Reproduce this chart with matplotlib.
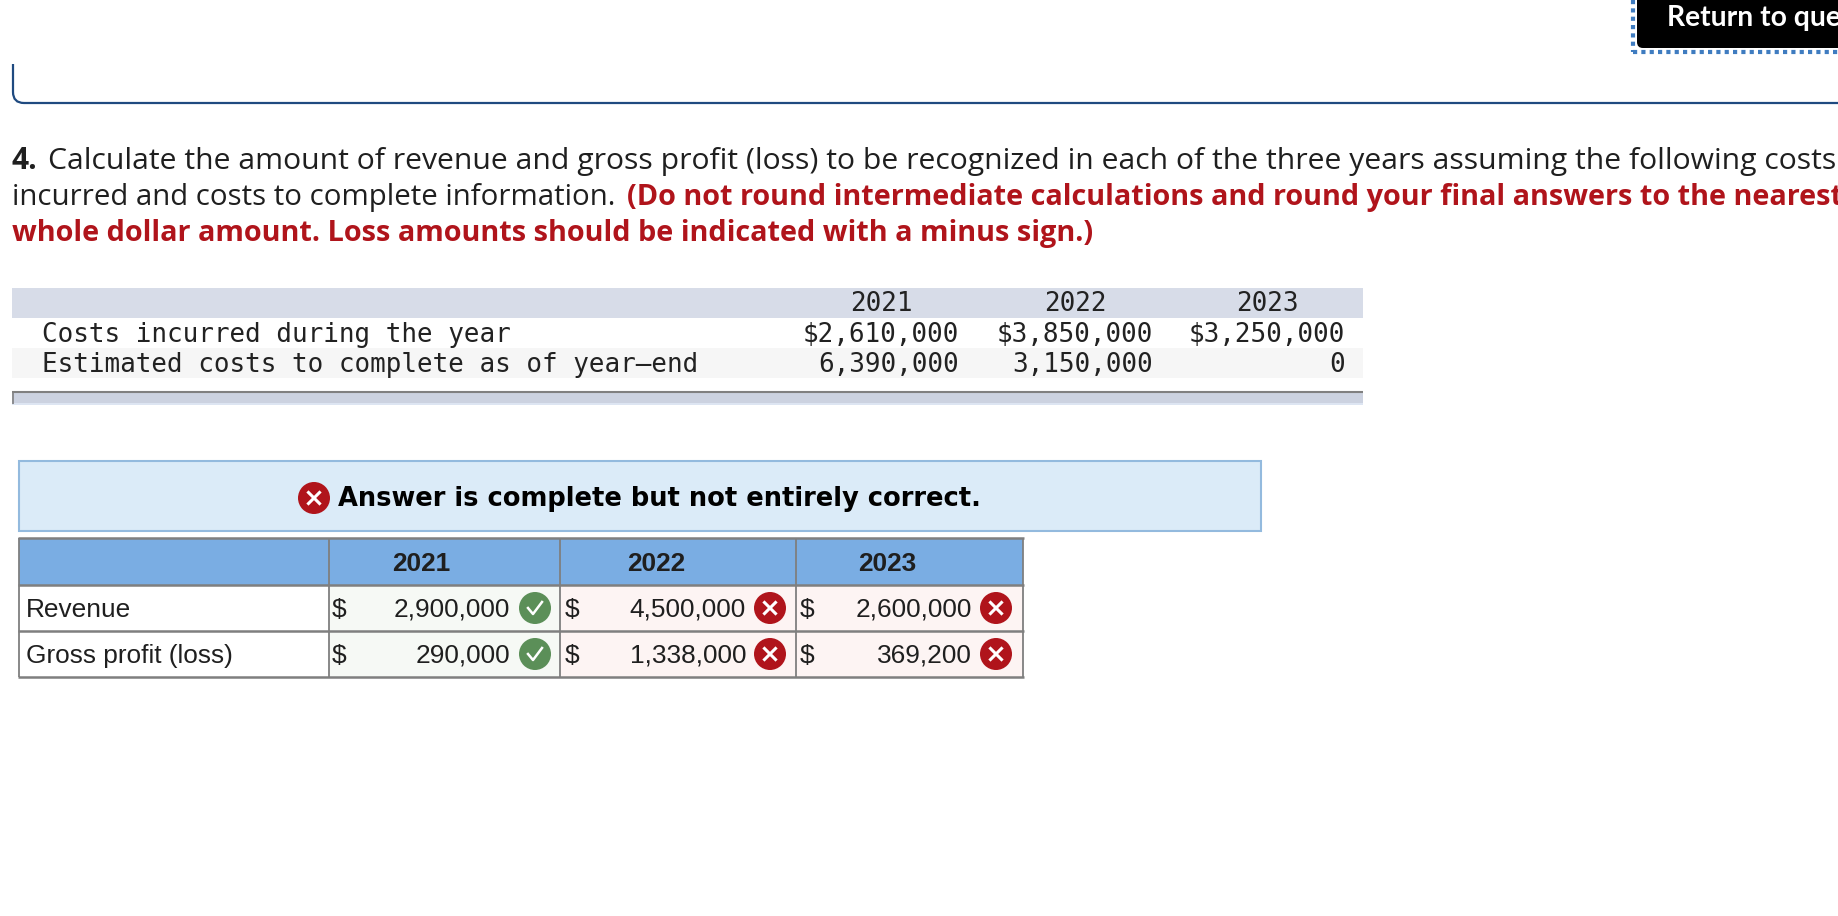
import matplotlib
matplotlib.use("Agg")
import matplotlib.pyplot as plt
from matplotlib.patches import Rectangle, Circle, FancyBboxPatch
from matplotlib.path import Path
from matplotlib.patches import PathPatch

years = ["2021", "2022", "2023"]
cost_labels = ["Costs incurred during the year", "Estimated costs to complete as of year\u2013end"]
costs_incurred = ["$2,610,000", "$3,850,000", "$3,250,000"]
costs_to_complete = ["6,390,000", "3,150,000", "0"]
answer_labels = ["Revenue", "Gross profit (loss)"]
revenue = ["2,900,000", "4,500,000", "2,600,000"]
gross_profit = ["290,000", "1,338,000", "369,200"]
correct = [True, False, False]

W, H = 1838, 916
fig = plt.figure(figsize=(W / 100, H / 100), dpi=100, facecolor="white")
ax = fig.add_axes([0, 0, 1, 1])
ax.set_xlim(0, W)
ax.set_ylim(H, 0)
ax.axis("off")

RED = "#b0141b"
GREEN = "#5b8f58"
GRAY = "#7f7f7f"
TXT = "#1f1f1f"

def rect(x0, y0, x1, y1, fc, ec="none", lw=0, z=1):
    ax.add_patch(Rectangle((x0, y0), x1 - x0, y1 - y0, fc=fc, ec=ec, lw=lw, zorder=z))

def hline(x0, x1, y, c=GRAY, lw=1.6, z=3):
    ax.plot([x0, x1], [y, y], color=c, lw=lw, zorder=z, solid_capstyle="butt")

def vline(x, y0, y1, c=GRAY, lw=1.6, z=3):
    ax.plot([x, x], [y0, y1], color=c, lw=lw, zorder=z, solid_capstyle="butt")

def icon(x, y, ok):
    ax.add_patch(Circle((x, y), 16, fc=GREEN if ok else RED, ec="none", zorder=4))
    if ok:
        ax.plot([x - 7, x - 2, x + 7], [y, y + 6, y - 6], color="white", lw=1.8, zorder=5)
    else:
        ax.plot([x - 5.5, x + 5.5], [y - 5.5, y + 5.5], color="white", lw=2.2, zorder=5)
        ax.plot([x - 5.5, x + 5.5], [y + 5.5, y - 5.5], color="white", lw=2.2, zorder=5)

# Top button and outer rule
ax.add_patch(FancyBboxPatch((1637, -20), 300, 68, boxstyle="round,pad=0,rounding_size=6", fc="black", ec="none", zorder=2))
ax.text(1667, 18, "Return to que", family="Lato", weight="bold", fontsize=20.3, color="white", va="center", ha="left", zorder=3)
ax.plot([1633, 1633], [0, 52], color="#3f7cc0", lw=3, ls=(0, (1, 1)), zorder=3)
ax.plot([1633, W], [52, 52], color="#3f7cc0", lw=3, ls=(0, (1, 1)), zorder=3)
ax.add_patch(PathPatch(Path([(13, 64), (13, 92), (13, 103), (24, 103), (W, 103)],
                            [Path.MOVETO, Path.LINETO, Path.CURVE3, Path.CURVE3, Path.LINETO]),
                       fc="none", ec="#1f4a80", lw=1.6, zorder=3))

# Paragraph
reg = dict(family="Open Sans", va="center", ha="left", clip_on=True, color=TXT)
bold = dict(family="Open Sans", fontsize=20.75, weight="bold", va="center", ha="left", clip_on=True)
ax.text(12, 161, "4.", weight="bold", family="Open Sans", fontsize=21.5, va="center", ha="left", color=TXT)
ax.text(48, 161, "Calculate the amount of revenue and gross profit (loss) to be recognized in each of the three years assuming the following costs", fontsize=21.7, **reg)
ax.text(12, 198, "incurred and costs to complete information.", fontsize=21.2, **reg)
ax.text(627, 198, "(Do not round intermediate calculations and round your final answers to the nearest", color=RED, **bold)
ax.text(12, 233, "whole dollar amount. Loss amounts should be indicated with a minus sign.)", color=RED, **bold)

# Given data table
rect(12, 288, 1363, 318, "#d7dce8")
rect(12, 348, 1363, 378, "#f6f6f6")
rect(12, 392, 1363, 403, "#ccd2e0")
rect(12, 403, 1363, 405, "#dde5f2")
hline(12, 1363, 392, "#808080", 1.5)
vline(13, 392, 404, "#808080", 1.2)
m = dict(family="DejaVu Sans Mono", fontsize=18.75, color="#222222", va="center")
ax.text(42, 335, cost_labels[0], ha="left", **m)
ax.text(42, 365, cost_labels[1], ha="left", **m)
for yr, inc, comp, xr, xc in zip(years, costs_incurred, costs_to_complete, [959, 1153, 1345], [881, 1075, 1267]):
    ax.text(xc, 304, yr, ha="center", **m)
    ax.text(xr, 335, inc, ha="right", **m)
    ax.text(xr, 365, comp, ha="right", **m)

# Banner
rect(18.5, 461, 1261, 531, "#dbebf8", "#93bade", 1.5)
icon(314, 498, False)
ax.text(338, 499, "Answer is complete but not entirely correct.", family="DejaVu Sans", weight="bold", fontsize=18.5, color="black", va="center", ha="left")

# Answer table
col = [18.5, 329, 560, 796, 1023]
row = [538, 585, 631, 677]
rect(col[0], row[0], col[-1], row[1], "#7aade3")
for i, ok in enumerate(correct):
    rect(col[i + 1], row[1], col[i + 2], row[3], "#f6f9f5" if ok else "#fdf4f3")
for x in col:
    vline(x, row[0], row[3], lw=1.3)
for y in row:
    hline(col[0] - 1, col[-1] + 1, y, lw=1.8)
s = dict(family="Liberation Sans", fontsize=18.9, color=TXT, va="center")
for lab, y in zip(answer_labels, [610, 656]):
    ax.text(26, y, lab, ha="left", **s)
for i, (yr, xc, xd, xv, xi) in enumerate(zip(years, [421, 656, 887], [332, 565, 800], [510, 746, 972], [535, 770, 996])):
    ax.text(xc, 564, yr, ha="center", weight="bold", **s)
    for yt, yi, v in zip([610, 656], [608, 654], [revenue[i], gross_profit[i]]):
        ax.text(xd, yt, "$", ha="left", **s)
        ax.text(xv, yt, v, ha="right", **s)
        icon(xi, yi, correct[i])

fig.savefig("out.png", dpi=100)
